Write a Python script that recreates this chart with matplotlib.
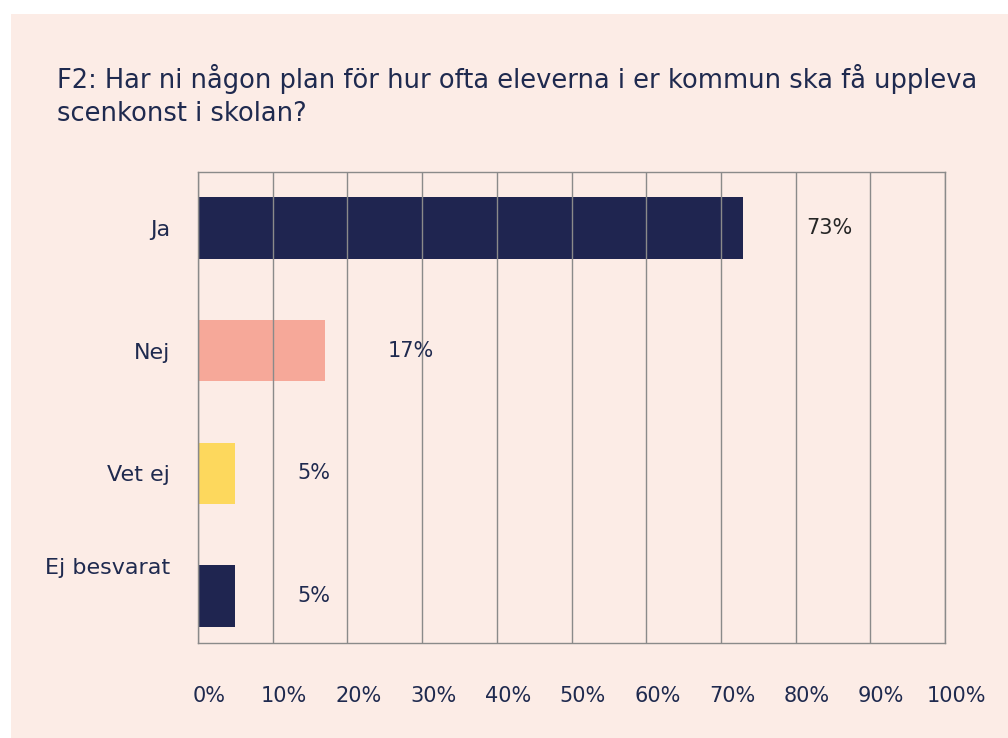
import matplotlib
matplotlib.use("Agg")
import matplotlib.pyplot as plt
import matplotlib.transforms as mtransforms
from matplotlib.patches import Rectangle

categories = ["Ja", "Nej", "Vet ej", "Ej besvarat"]
values = [73, 17, 5, 5]
value_labels = ["73%", "17%", "5%", "5%"]
bar_colors = ["#1f2550", "#f6a899", "#fdd85d", "#1f2550"]
label_colors = ["#262626", "#1f2a4f", "#1f2a4f", "#1f2a4f"]
x_ticks = [0, 10, 20, 30, 40, 50, 60, 70, 80, 90, 100]
x_tick_labels = ["0%", "10%", "20%", "30%", "40%", "50%", "60%", "70%", "80%", "90%", "100%"]
title = "F2: Har ni någon plan för hur ofta eleverna i er kommun ska få uppleva\nscenkonst i skolan?"

BG = "#fcece6"
NAVY = "#1f2a4f"
GRID = "#8a8a8a"

plt.rcParams['font.family'] = ['DejaVu Sans']

fig = plt.figure(figsize=(10.08, 7.38), dpi=100)
fig.patch.set_facecolor("white")
fig.patches.append(Rectangle((11 / 1008, 0), 1 - 11 / 1008, 1 - 14 / 738,
                             transform=fig.transFigure, facecolor=BG,
                             edgecolor="none", zorder=-10))

ax = fig.add_axes([198 / 1008, 1 - 643 / 738, (945 - 198) / 1008, (643 - 172) / 738])
ax.set_facecolor(BG)

ypos = list(range(len(categories)))
ax.barh(ypos, values, height=0.5, color=bar_colors, zorder=1)

ax.set_xlim(0, 100)
ax.set_ylim(3.383, -0.456)

ax.set_xticks(x_ticks)
ax.set_xticklabels(x_tick_labels, fontsize=15, color=NAVY)
ax.set_yticks(ypos)
ax.set_yticklabels(categories, fontsize=16, color=NAVY)
ax.tick_params(axis="both", length=0)
ax.tick_params(axis="x", pad=31)
ax.tick_params(axis="y", pad=20)

# shift x tick labels a bit to the right
offset = mtransforms.ScaledTranslation(11 / 100, 0, fig.dpi_scale_trans)
for lbl in ax.get_xticklabels():
    lbl.set_transform(lbl.get_transform() + offset)

# last category label sits higher (aligned with bar top)
up = mtransforms.ScaledTranslation(0, 30 / 100, fig.dpi_scale_trans)
ylbls = ax.get_yticklabels()
ylbls[-1].set_transform(ylbls[-1].get_transform() + up)

ax.grid(axis="x", color=GRID, linewidth=1.0, zorder=2)
ax.set_axisbelow(False)
for s in ax.spines.values():
    s.set_color(GRID)
    s.set_linewidth(1.0)

for i, (v, t, c) in enumerate(zip(values, value_labels, label_colors)):
    ax.annotate(t, xy=(v, i), xytext=(45, 0), textcoords="offset points",
                ha="left", va="center", fontsize=15, color=c, zorder=3)

fig.text(57 / 1008, 1 - 121 / 738, title, fontsize=18.5, color=NAVY,
         ha="left", va="baseline", linespacing=1.33)

fig.savefig("out.png", dpi=100, facecolor=fig.get_facecolor())
